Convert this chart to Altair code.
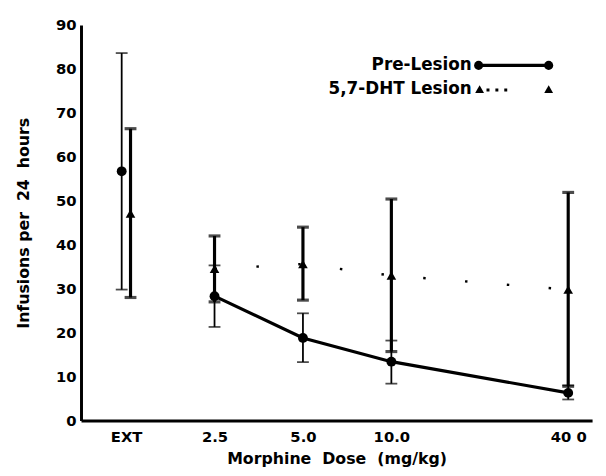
import altair as alt
import pandas as pd

# ---- data ----
doses = ["EXT", "2.5", "5.0", "10.0", "40 0"]
dose_pos = [0, 1, 2, 3, 5]          # categorical slots (40 sits two slots after 10)
series = ["Pre-Lesion", "5,7-DHT Lesion"]

pre_mean = [56.7, 28.3, 18.8, 13.4, 6.3]
pre_lo = [29.8, 21.3, 13.3, 8.4, 4.8]
pre_hi = [83.6, 35.3, 24.4, 18.2, 8.0]

les_mean = [47.1, 34.5, 35.6, 33.0, 29.8]
les_lo = [28.0, 27.0, 27.4, 15.7, 7.8]
les_hi = [66.4, 42.0, 44.0, 50.4, 51.9]

y_ticks = [0, 10, 20, 30, 40, 50, 60, 70, 80, 90]

FONT = "DejaVu Sans"
EXT_DODGE = 0.05  # the two EXT points are drawn side by side

rows = []
for s, means, los, his, d in [
    (series[0], pre_mean, pre_lo, pre_hi, -EXT_DODGE),
    (series[1], les_mean, les_lo, les_hi, EXT_DODGE),
]:
    for dose, p, m, lo, hi in zip(doses, dose_pos, means, los, his):
        rows.append({
            "series": s, "dose": dose,
            "pos": p + (d if dose == "EXT" else 0.0),
            "mean": m, "lo": lo, "hi": hi,
        })
df = pd.DataFrame(rows)

label_expr = ""
for p, lab in zip(dose_pos, doses):
    label_expr += f"datum.value == {p} ? '{lab}' : "
label_expr += "''"

x_enc = alt.X(
    "pos:Q",
    scale=alt.Scale(domain=[-0.51, 5.27], nice=False, zero=False),
    axis=alt.Axis(
        values=dose_pos, labelExpr=label_expr,
        title="Morphine\u00a0\u00a0Dose\u00a0\u00a0(mg/kg)",
        ticks=False, grid=False, labelPadding=9, titlePadding=7,
        domainWidth=3, domainColor="black",
    ),
)
y_scale = alt.Scale(domain=[0, 90], nice=False)
y_axis = alt.Axis(
    values=y_ticks, title="Infusions per\u00a0\u00a024\u00a0\u00a0hours",
    ticks=False, grid=False, labelPadding=5, titlePadding=24,
    domainWidth=3, domainColor="black",
)

base = alt.Chart(df)


def series_layers(name, bar_w, cap_w, shape, size):
    d = base.transform_filter(alt.datum.series == name)
    bars = d.mark_rule(color="black", strokeWidth=bar_w).encode(
        x=x_enc, y=alt.Y("lo:Q", scale=y_scale, axis=y_axis), y2="hi:Q"
    )
    cap_lo = d.mark_tick(orient="horizontal", color="black", size=12,
                         thickness=cap_w).encode(x="pos:Q", y="lo:Q")
    cap_hi = d.mark_tick(orient="horizontal", color="black", size=12,
                         thickness=cap_w).encode(x="pos:Q", y="hi:Q")
    pts = d.mark_point(shape=shape, filled=True, color="black", size=size,
                       opacity=1).encode(x="pos:Q", y="mean:Q")
    return [bars, cap_lo, cap_hi, pts]


pre_line = base.transform_filter(
    (alt.datum.series == series[0]) & (alt.datum.dose != "EXT")
).mark_line(color="black", strokeWidth=3.2).encode(x="pos:Q", y="mean:Q")

les_line = base.transform_filter(
    (alt.datum.series == series[1]) & (alt.datum.dose != "EXT")
).mark_line(color="black", strokeWidth=2.5, strokeDash=[2.5, 40]).encode(
    x="pos:Q", y="mean:Q")

# ---- hand-drawn legend (labels left of the symbols, as in the reference) ----
one = pd.DataFrame({"k": [0]})
leg = alt.Chart(one)
LX, LY1, LY2 = 396, 41, 65
legend = [
    leg.mark_text(text=series[0], align="right", baseline="middle", font=FONT,
                  fontWeight="bold", fontSize=17, color="black").encode(
        x=alt.value(LX), y=alt.value(LY1)),
    leg.mark_text(text=series[1], align="right", baseline="middle", font=FONT,
                  fontWeight="bold", fontSize=17, color="black").encode(
        x=alt.value(LX), y=alt.value(LY2)),
    leg.mark_rule(color="black", strokeWidth=3.2).encode(
        x=alt.value(LX + 7), x2=alt.value(LX + 78), y=alt.value(LY1)),
    leg.mark_point(shape="circle", filled=True, color="black", size=85,
                   opacity=1).encode(x=alt.value(LX + 7), y=alt.value(LY1)),
    leg.mark_point(shape="circle", filled=True, color="black", size=85,
                   opacity=1).encode(x=alt.value(LX + 78), y=alt.value(LY1)),
    leg.mark_rule(color="black", strokeWidth=3, strokeDash=[3, 6]).encode(
        x=alt.value(LX + 15), x2=alt.value(LX + 39), y=alt.value(LY2 + 1)),
    leg.mark_point(shape="triangle-up", filled=True, color="black", size=80,
                   opacity=1).encode(x=alt.value(LX + 8), y=alt.value(LY2)),
    leg.mark_point(shape="triangle-up", filled=True, color="black", size=80,
                   opacity=1).encode(x=alt.value(LX + 78), y=alt.value(LY2)),
]

layers = (
    series_layers(series[0], 1.8, 1.8, "circle", 100)
    + series_layers(series[1], 3.2, 3.2, "triangle-up", 95)
    + [pre_line, les_line]
    + legend
)

chart = alt.layer(*layers).properties(
    width=518, height=401,
    autosize=alt.AutoSizeParams(type="none"),
    padding={"left": 74, "top": 14, "right": 6, "bottom": 52},
).configure_view(stroke=None).configure_axis(
    labelFont=FONT, labelFontWeight="bold", labelFontSize=15, labelColor="black",
    titleFont=FONT, titleFontWeight="bold", titleFontSize=16, titleColor="black",
)

chart.save("out.html", embed_options={"renderer": "svg", "actions": False})
